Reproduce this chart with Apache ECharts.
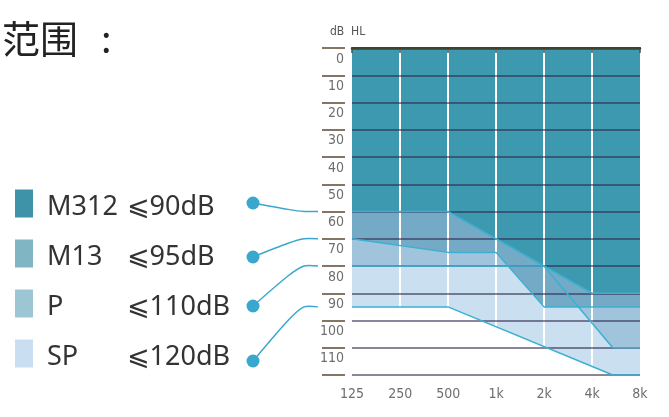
<!DOCTYPE html>
<html><head><meta charset="utf-8">
<script src="https://cdn.jsdelivr.net/npm/echarts@6/dist/echarts.min.js"></script>
<style>html,body{margin:0;padding:0;background:#fff}#c{width:669px;height:417px}</style>
</head><body><div id="c"></div>
<script>
// ---- data ----
const freqTicks = [125, 250, 500, 1000, 2000, 4000, 8000];
const tickLabels = ['125', '250', '500', '1k', '2k', '4k', '8k'];
const models = ['M312', 'M13', 'P', 'SP'];
const limits = ['⩽90dB', '⩽95dB', '⩽110dB', '⩽120dB'];
const m312Freq = [125, 500, 4000, 8000];
const m312Db   = [60, 60, 90, 90];
const m13Freq  = [125, 500, 1000, 2000, 8000];
const m13Db    = [70, 75, 75, 95, 95];
const pFreq    = [125, 2000, 5400, 8000];
const pDb      = [80, 80, 110, 110];
const spFreq   = [125, 500, 5400, 8000];
const spDb     = [95, 95, 120, 120];

const bandColors = ['#3d99af', '#74aac6', '#9fc4dc', '#cadff0'];
const legendColors = ['#3f93a8', '#80b5c3', '#9dc6d5', '#c9def0'];
const lineColor = '#3cb0d2';
const narrow = "'Liberation Sans Narrow','DejaVu Sans Condensed','Roboto',sans-serif";

const sets = [
  [m312Freq, m312Db], [m13Freq, m13Db], [pFreq, pDb], [spFreq, spDb]
];
const pairs = sets.map(s => s[0].map((f, i) => [f, s[1][i]]));

const chart = echarts.init(document.getElementById('c'));
const series = [];
// areas, lightest first so darker ones sit on top
for (let k = 3; k >= 0; k--) {
  series.push({
    name: models[k], type: 'line', data: pairs[k], showSymbol: false, silent: true,
    z: 1 + (3 - k) * 0.2,
    color: bandColors[k],
    itemStyle: { color: bandColors[k] },
    lineStyle: { width: 0 },
    areaStyle: { color: bandColors[k], opacity: 1, origin: 'start' }
  });
}
for (let k = 3; k >= 0; k--) {
  series.push({
    name: models[k] + ' edge', type: 'line', data: pairs[k], showSymbol: false, silent: true,
    z: 6, lineStyle: { color: lineColor, width: 1.5 }
  });
}

function fmtFreq(v) {
  let best = 0;
  freqTicks.forEach((f, i) => { if (Math.abs(f - v) < Math.abs(freqTicks[best] - v)) best = i; });
  return tickLabels[best];
}

chart.setOption({
  animation: false,
  title: [
    { text: '{a|范围}{b|:}', left: 2, top: 20, padding: 0,
      textStyle: { fontWeight: 'normal', rich: {
        a: { fontFamily: "'Noto Sans CJK SC'", fontSize: 38, fontWeight: 'normal', color: '#222' },
        b: { fontFamily: "'Noto Sans CJK SC'", fontSize: 38, fontWeight: 'normal', color: '#222', padding: [0, 0, 0, 23] }
      } } },
    { text: 'dB  HL', left: 330, top: 26, padding: 0, textStyle: { fontFamily: narrow, fontSize: 12, fontWeight: 'normal', color: '#555' } }
  ],
  legend: {
    orient: 'vertical', left: 15, top: 186, padding: 0, itemWidth: 18, itemHeight: 28, itemGap: 15,
    icon: 'rect', selectedMode: false,
    data: models.map((m, i) => ({ name: m, itemStyle: { color: legendColors[i], borderWidth: 0 } })),
    formatter: name => '{n|' + name + '}{v|' + limits[models.indexOf(name)] + '}',
    textStyle: {
      color: '#333', fontFamily: "'Noto Sans'", fontSize: 27,
      rich: {
        n: { width: 80, padding: [8, 0, 0, 9], fontSize: 27, fontFamily: "'Noto Sans'", color: '#333', lineHeight: 28 },
        v: { padding: [8, 0, 0, 0], fontSize: 27, fontFamily: "'Noto Sans','DejaVu Sans'", color: '#333', lineHeight: 28 }
      }
    }
  },
  grid: { left: 352, right: 29, top: 48, bottom: 42, containLabel: false },
  xAxis: [{
    type: 'log', logBase: 2, min: 125, max: 8000, interval: 1, z: 3,
    axisLine: { show: true, lineStyle: { color: '#4a5040', width: 2 } },
    axisTick: { show: true, length: 5, lineStyle: { color: '#4a5040', width: 1.5 } },
    axisLabel: { margin: 12, fontFamily: narrow, fontSize: 14, color: '#6e6e6e', formatter: fmtFreq },
    splitLine: { show: true, showMinLine: false, showMaxLine: false, lineStyle: { color: '#ffffff', width: 2 } }
  }, {
    type: 'log', logBase: 2, min: 125, max: 8000, position: 'top', z: 5,
    axisLine: { show: true, lineStyle: { color: '#3e4535', width: 2.5 } },
    axisTick: { show: false }, axisLabel: { show: false }, splitLine: { show: false }
  }],
  yAxis: {
    type: 'value', inverse: true, min: 0, max: 120, interval: 10, offset: 7, z: 4,
    axisLine: { show: false },
    axisTick: { show: true, length: 23, lineStyle: { color: '#857565', width: 2 } },
    axisLabel: {
      margin: 1, fontFamily: narrow, fontSize: 14, color: '#6e6e6e',
      verticalAlign: 'top', padding: [4, 0, 0, 0],
      formatter: v => (v === 120 ? '' : String(v))
    },
    splitLine: { show: true, lineStyle: { color: 'rgba(50,38,75,0.75)', width: 1.6 } }
  },
  series: series
});

// legend connectors: dots beside each legend row, lines ending at the model's low-frequency limit
const dotY = [203, 257, 306, 361];
const graphics = [];
models.forEach((m, i) => {
  const endY = chart.convertToPixel({ yAxisIndex: 0 }, sets[i][1][0]);
  graphics.push({
    type: 'polyline', z: 50,
    shape: { points: [[253, dotY[i]], [288, (dotY[i] * 0.25 + endY * 0.75)], [304, endY], [318, endY]], smooth: 0.25 },
    style: { stroke: '#3aa8cc', lineWidth: 1.5, fill: null }
  });
  graphics.push({
    type: 'circle', z: 51, shape: { cx: 253, cy: dotY[i], r: 6.5 },
    style: { fill: '#3aa8cc' }
  });
});
chart.setOption({ graphic: graphics });
</script></body></html>
